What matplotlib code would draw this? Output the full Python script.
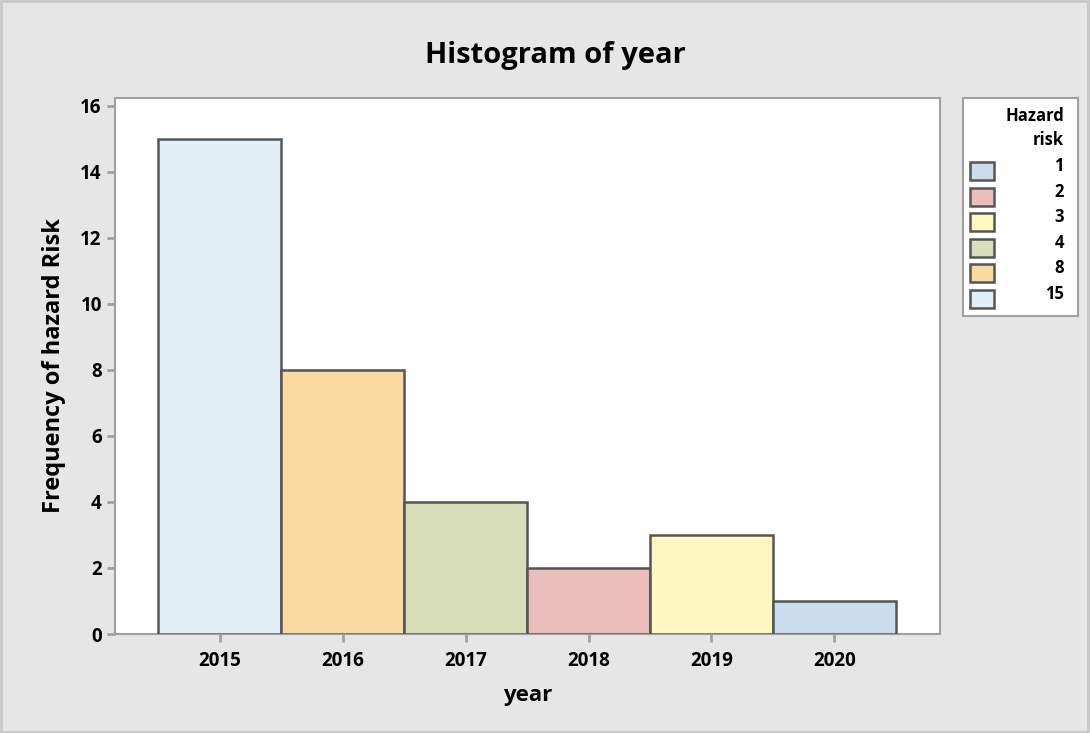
import matplotlib
matplotlib.use("Agg")
import matplotlib.pyplot as plt
from matplotlib.patches import Rectangle

years = [2015, 2016, 2017, 2018, 2019, 2020]
frequency = [15, 8, 4, 2, 3, 1]
risk_levels = [1, 2, 3, 4, 8, 15]
risk_colors = ["#cbdcec", "#ebbcbc", "#fff7c2", "#d8dfb8", "#fbd9a3", "#e3eff6"]
y_ticks = [0, 2, 4, 6, 8, 10, 12, 14, 16]

plt.rcParams['font.family'] = ['Open Sans', 'DejaVu Sans']

color_of = dict(zip(risk_levels, risk_colors))
edge = "#555555"
bg = "#e6e6e6"
axis_gray = "#a0a0a0"

fig = plt.figure(figsize=(10.9, 7.33), dpi=100, facecolor=bg)
# outer border
fig.patches.append(Rectangle((0.001, 0.001), 0.997, 0.997, transform=fig.transFigure,
                             fill=False, edgecolor="#c8c8c8", linewidth=2))

ax = fig.add_axes([115/1090, (733-634)/733, (940-115)/1090, (634-98)/733])
ax.set_facecolor("white")
ax.bar(years, frequency, width=1.0, color=[color_of[f] for f in frequency],
       edgecolor=edge, linewidth=1.8, zorder=3)
ax.set_xlim(2014.146, 2020.86)
ax.set_ylim(0, 16.24)
ax.set_xticks(years)
ax.set_xticklabels([str(y) for y in years])
ax.set_yticks(y_ticks)
for s in ax.spines.values():
    s.set_color(axis_gray)
    s.set_linewidth(1.5)
ax.tick_params(axis='both', colors=axis_gray, length=6, width=2, labelcolor="black",
               labelsize=13.5)
ax.tick_params(axis='x', pad=6)
for lab in ax.get_xticklabels() + ax.get_yticklabels():
    lab.set_fontweight("bold")
ax.set_xlabel("year", fontsize=16, fontweight="bold", labelpad=10)
ax.set_ylabel("Frequency of hazard Risk", fontsize=17, fontweight="bold", labelpad=10)
fig.text(555/1090, 1 - 56/733, "Histogram of year", ha="center", va="center",
         fontsize=21, fontweight="bold")

# legend box
lax = fig.add_axes([963/1090, (733-316)/733, (1078-963)/1090, (316-98)/733])
lax.set_xlim(963, 1078)
lax.set_ylim(316, 98)
lax.set_facecolor("white")
lax.set_xticks([])
lax.set_yticks([])
for s in lax.spines.values():
    s.set_color(axis_gray)
    s.set_linewidth(1.5)
lax.text(1064, 116, "Hazard", ha="right", va="center", fontsize=12, fontweight="bold")
lax.text(1064, 140, "risk", ha="right", va="center", fontsize=12, fontweight="bold")
ys = [171, 197, 222, 248, 273, 299]
for yc, lvl, col in zip(ys, risk_levels, risk_colors):
    lax.add_patch(Rectangle((970, yc - 9), 24, 18, facecolor=col, edgecolor=edge, linewidth=1.8))
    lax.text(1064, yc - 5, str(lvl), ha="right", va="center", fontsize=12, fontweight="bold")

fig.savefig("out.png", dpi=100, facecolor=bg)
